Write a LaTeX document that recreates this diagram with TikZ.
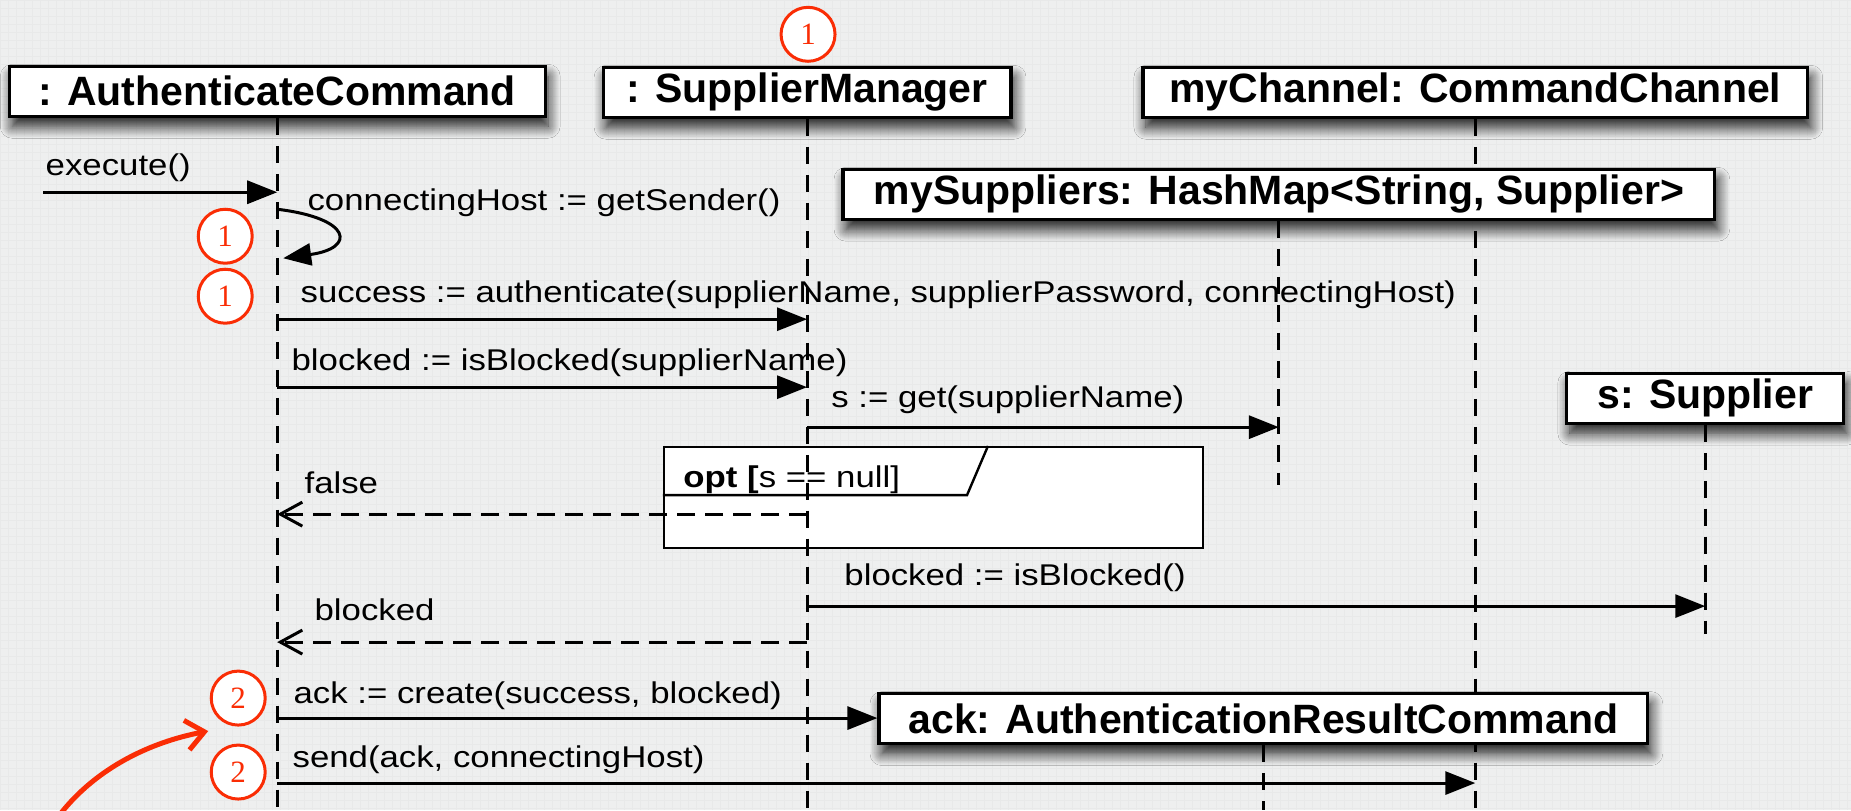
\documentclass[tikz,border=0pt]{standalone}
\usepackage{fontspec}
\setmainfont{Liberation Sans}
\newfontfamily\msgfont{Liberation Sans}[FakeStretch=1.16]
\newfontfamily\numfont{Liberation Serif}
\usetikzlibrary{arrows.meta,shadows.blur}
\definecolor{paper}{RGB}{238,239,239}
\definecolor{paperline}{RGB}{232,233,233}
\definecolor{notered}{RGB}{250,45,5}

\begin{document}
\begin{tikzpicture}[x=0.5pt,y=-0.5pt,
  obj/.style={draw, line width=1.6pt, fill=white, minimum height=25pt, inner sep=0pt,
    font=\fontsize{20.5}{24}\selectfont\bfseries,
    blur shadow={shadow xshift=1.5pt, shadow yshift=-5pt, shadow blur radius=6pt,
      shadow blur steps=12, shadow opacity=90}},
  life/.style={line width=1.5pt, dash pattern=on 8.5pt off 5.5pt},
  call/.style={line width=1.5pt, -{Triangle[length=15pt,width=11.5pt]}},
  reply/.style={line width=1.5pt, dash pattern=on 9pt off 5pt,
    -{Straight Barb[length=11pt,width=12pt,line width=1.5pt]}},
  msg/.style={anchor=base west, inner sep=0pt, font=\msgfont\fontsize{15}{18}\selectfont},
  badge/.style={circle, draw=notered, line width=1.5pt, fill=white, minimum size=27pt,
    inner sep=0pt, text=notered, font=\numfont\fontsize{15.5}{16}\selectfont},
  pointer/.style={draw=notered, line width=2.5pt, line cap=round,
    -{Straight Barb[length=9pt,width=15pt,line width=2.5pt]}},
]
% paper with a faint grid
\fill[paper] (0,0) rectangle (1851,810);
\draw[paperline, line width=0.3pt, step=4pt] (0,0) grid (1851,810);
\useasboundingbox (0,0) rectangle (1851,810);
\coordinate (bottom) at (0,810);

% objects on the top row
\node[obj, minimum width=268pt] (ac) at (277,91) {: AuthenticateCommand};
\node[obj, minimum width=204pt] (sm) at (807,92) {: SupplierManager};
\node[obj, minimum width=332.5pt] (ch) at (1475.5,92) {myChannel: CommandChannel};

% the channel lifeline runs behind the later objects
\draw[life] (ch.south) -- (ch.south |- bottom);

\node[obj, minimum width=436pt] (map) at (1279,194) {mySuppliers: HashMap<String, Supplier>};
\node[obj, minimum width=138.5pt] (sup) at (1705.5,398) {s: Supplier};
\node[obj, minimum width=384.5pt] (ack) at (1263.5,718.5) {ack: AuthenticationResultCommand};

% optional fragment
\node[draw, line width=1.2pt, fill=white, minimum width=269.5pt, minimum height=50.5pt, inner sep=0pt] (opt) at (933.5,497.5) {};
\draw[line width=1.2pt] (opt.west |- 0,495) -- (967,495) -- (opt.north -| 988,0);
\node[msg] (optlabel) at (683,487) {\bfseries opt [\mdseries s == null]};

% remaining lifelines
\draw[life] (ac.south) -- (ac.south |- bottom);
\draw[life] (sm.south) -- (sm.south |- bottom);
\draw[life] (map.south) -- (map.south |- 0,485);
\draw[life] (sup.south) -- (sup.south |- 0,634);
\draw[life] (ack.south) -- (ack.south |- bottom);

% incoming call
\coordinate (caller) at (43,192);
\draw[call] (caller) -- (ac.south |- caller);
\node[msg] (l1) at (45,175) {execute()};

% self call
\draw[line width=1.5pt, -{Triangle[length=14pt,width=11pt]}]
  (ac.south |- 0,209) .. controls (352,218) and (356,248) .. ([xshift=3pt]ac.south |- 0,258);
\node[msg] (l2) at (307,210) {connectingHost := getSender()};

% messages
\draw[call] (ac.south |- 0,319) -- (sm.south |- 0,319);
\node[msg] (l3) at (300,302) {success := authenticate(supplierName, supplierPassword, connectingHost)};

\draw[call] (ac.south |- 0,387) -- (sm.south |- 0,387);
\node[msg] (l4) at (291,370) {blocked := isBlocked(supplierName)};

\draw[call] (sm.south |- 0,427) -- (map.south |- 0,427);
\node[msg] (l5) at (831,407) {s := get(supplierName)};

\draw[reply] (sm.south |- 0,514) -- (ac.south |- 0,514);
\node[msg] (l6) at (304,493) {false};

\draw[call] (sm.south |- 0,606) -- (sup.south |- 0,606);
\node[msg] (l7) at (844,585) {blocked := isBlocked()};

\draw[reply] (sm.south |- 0,642) -- (ac.south |- 0,642);
\node[msg] (l8) at (314,620) {blocked};

\draw[call] (ac.south |- 0,718) -- (ack.west |- 0,718);
\node[msg] (l9) at (293,703) {ack := create(success, blocked)};

\draw[call] (ac.south |- 0,783) -- (ch.south |- 0,783);
\node[msg] (l10) at (292,767) {send(ack, connectingHost)};

% numbered markers
\node[badge] (b0) at (808,34) {1};
\node[badge] (b1) at (225,236) {1};
\node[badge] (b2) at (225,296) {1};
\node[badge] (b3) at (238,698) {2};
\node[badge] (b4) at (238,772) {2};

% pointer
\coordinate (ptrfrom) at (60,814);
\coordinate (ptrto) at (208,731);
\draw[pointer] (ptrfrom) .. controls (96,768) and (150,742) .. (ptrto);
\end{tikzpicture}
\end{document}
